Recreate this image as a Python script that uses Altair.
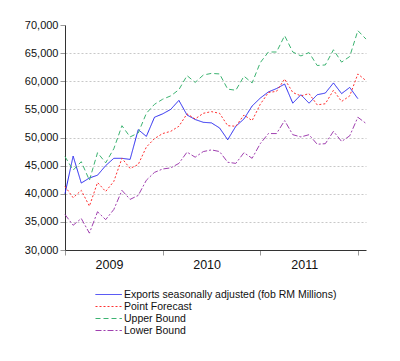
import altair as alt
import pandas as pd

months = list(range(38))
years = ["2009", "2010", "2011"]

exports = [40000, 46700, 41900, 42800, 43300, 45000, 46300, 46300, 46100, 51400,
           50200, 53600, 54200, 55000, 56600, 54000, 53200, 52700, 52600, 51700,
           49600, 52000, 53300, 55600, 57000, 58100, 58700, 59500, 56100, 57600,
           56100, 57600, 57900, 59700, 57800, 58900, 56900]
forecast = [41300, 39300, 40600, 37800, 42000, 40400, 42200, 46300, 44500, 45200,
            48300, 49800, 50700, 51100, 52000, 54200, 53300, 54300, 54600, 54300,
            52100, 52000, 54000, 53000, 55900, 58000, 58200, 60400, 58000, 57400,
            57800, 55800, 56000, 58400, 56400, 57400, 61300, 60100]
upper = [46600, 44200, 45700, 42400, 47300, 45500, 48000, 52100, 50100, 50800,
         54300, 55900, 56800, 57400, 58500, 61000, 59800, 61100, 61400, 61300,
         58600, 58400, 60900, 59700, 63300, 65200, 65200, 68100, 65200, 64500,
         65100, 62800, 62900, 65600, 63400, 64400, 69000, 67500]
lower = [36300, 34400, 35600, 33000, 36800, 35400, 37200, 40600, 39000, 39700,
         42400, 43800, 44400, 44600, 45400, 47400, 46500, 47500, 47800, 47500,
         45600, 45400, 47300, 46300, 48900, 50700, 50700, 53000, 50500, 50100,
         50500, 48800, 48900, 51100, 49300, 50300, 53600, 52500]

series_names = ["Exports seasonally adjusted (fob RM Millions)", "Point Forecast",
                "Upper Bound", "Lower Bound"]
colors = ["#2424f0", "#ff3030", "#3cb371", "#a040b0"]
dashes = [[1, 0], [2, 2], [5, 3], [6, 2, 2, 2]]

rows = []
for name, vals in zip(series_names, [exports, forecast, upper, lower]):
    for m, v in zip(months, vals):
        rows.append({"month": m, "value": v, "series": name})
df = pd.DataFrame(rows)

label_expr = " : ".join(
    f"datum.value == {12 * i} ? '{y}'" for i, y in enumerate(years)
) + " : ''"

legend = alt.Legend(
    title=None, orient="none", legendX=30, legendY=263,
    symbolType="M-1,0H3.4", symbolSize=144, symbolStrokeWidth=1,
    labelFont="Liberation Sans", labelFontSize=10.5, labelColor="#111111",
    labelOffset=16, rowPadding=0, labelLimit=400, padding=0,
)

chart = alt.Chart(df).mark_line(strokeWidth=1).encode(
    x=alt.X("month:Q",
            scale=alt.Scale(domain=[0, 37], nice=False, zero=False),
            axis=alt.Axis(values=[0, 12, 24, 36], labelExpr=label_expr,
                          labelOffset=44, labelAlign="center", grid=False, title=None,
                          tickSize=5, tickColor="#999999", domainColor="#333333",
                          labelFont="Liberation Sans", labelFontSize=12.5,
                          labelColor="#111111", labelPadding=3, labelFlush=False,
                          labelOverlap=False)),
    y=alt.Y("value:Q",
            scale=alt.Scale(domain=[30000, 70000], nice=False, zero=False),
            axis=alt.Axis(values=list(range(30000, 70001, 5000)), format=",.0f",
                          title=None, grid=True, gridDash=[2, 2],
                          gridColor="#c8c8c8",
                          gridOpacity={"condition": {"test": "datum.value >= 70000 || datum.value <= 30000", "value": 0}, "value": 1},
                          tickSize=5, tickColor="#999999", domainColor="#333333",
                          labelFont="Liberation Sans", labelFontSize=11,
                          labelColor="#111111", labelPadding=2)),
    color=alt.Color("series:N", scale=alt.Scale(domain=series_names, range=colors),
                    legend=legend),
    strokeDash=alt.StrokeDash("series:N",
                              scale=alt.Scale(domain=series_names, range=dashes),
                              legend=legend),
).properties(
    width=301, height=225,
    autosize=alt.AutoSizeParams(type="none"),
    padding={"left": 57, "top": 17, "right": 20, "bottom": 90},
).configure_view(stroke=None)

chart.save("out.html", embed_options={"renderer": "svg", "actions": False})
